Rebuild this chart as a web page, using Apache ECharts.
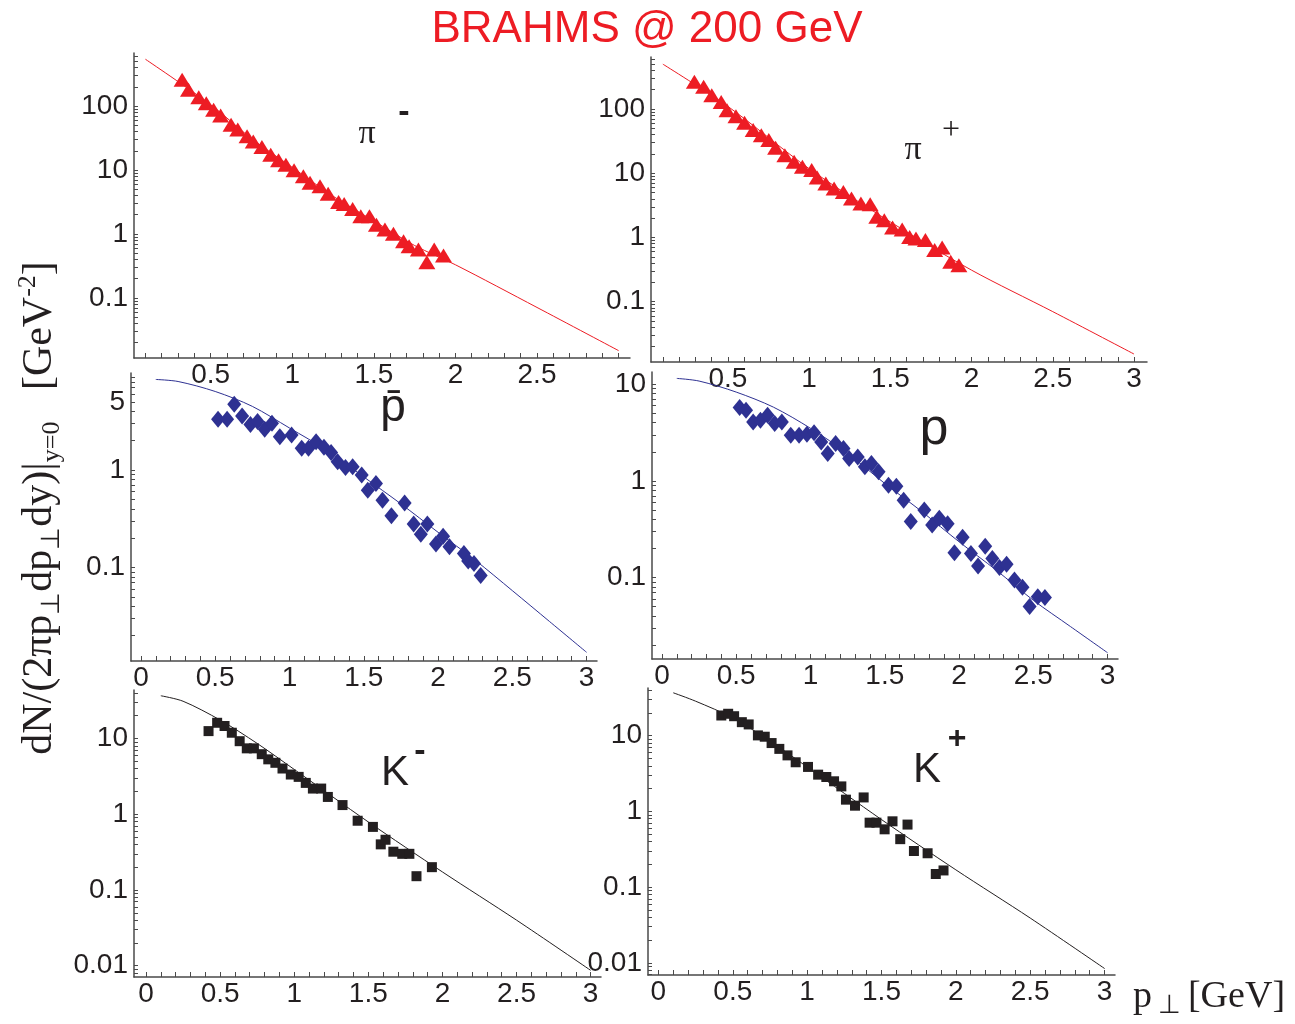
<!DOCTYPE html>
<html>
<head>
<meta charset="utf-8">
<script src="https://cdn.jsdelivr.net/npm/echarts@6/dist/echarts.min.js"></script>
<style>html,body{margin:0;padding:0;background:#fff}#main{width:1295px;height:1024px}</style>
</head>
<body>
<div id="main"></div>
<script>
var myChart = echarts.init(document.getElementById('main'));

// pi- (top left)
var piMinusPt = [0.325,0.364,0.427,0.473,0.518,0.561,0.625,0.666,0.723,0.761,0.814,0.868,0.916,0.961,1.011,1.068,1.109,1.170,1.220,1.284,1.318,1.370,1.420,1.473,1.516,1.568,1.620,1.682,1.716,1.773,1.825,1.870,1.927];
var piMinusY = [258,180,138,111,88,71,51,43,33.6,28,22.9,17.4,14.2,12.1,9.9,8.0,6.3,5.6,4.27,3.16,2.94,2.46,1.89,1.89,1.40,1.17,1.01,0.77,0.64,0.57,0.36,0.57,0.46];
var piMinusFitPt = [0.1,0.5,0.75,1,1.25,1.5,1.75,2,2.5,3];
var piMinusFitY = [540,105,31,11,3.9,1.6,0.66,0.33,0.071,0.015];

// pi+ (top right)
var piPlusPt = [0.294,0.351,0.401,0.459,0.495,0.550,0.603,0.656,0.706,0.752,0.794,0.851,0.908,0.959,1.016,1.050,1.103,1.154,1.211,1.261,1.319,1.376,1.417,1.463,1.514,1.573,1.619,1.658,1.716,1.773,1.819,1.872,1.922];
var piPlusY = [265,222,164,129,96,77,61,47,39,33,25,19.1,15.1,12.6,11.2,8.6,6.9,5.8,5.1,4.05,3.38,3.30,2.10,1.86,1.43,1.33,1.02,0.96,0.91,0.64,0.70,0.42,0.37];
var piPlusFitPt = [0.1,0.5,1,1.5,2,2.5,3];
var piPlusFitY = [500,110,11.8,1.75,0.31,0.07,0.0153];

// anti-proton (middle left)
var pbarPt = [0.519,0.580,0.628,0.681,0.737,0.785,0.833,0.882,0.935,1.014,1.082,1.128,1.179,1.232,1.280,1.324,1.377,1.425,1.486,1.527,1.582,1.626,1.686,1.775,1.836,1.884,1.928,1.986,2.034,2.077,2.174,2.203,2.242,2.287];
var pbarY = [3.32,3.32,4.73,3.59,2.94,3.14,2.62,3.02,2.20,2.29,1.67,1.67,1.95,1.71,1.51,1.22,1.06,1.08,0.89,0.62,0.73,0.49,0.34,0.46,0.28,0.22,0.28,0.174,0.21,0.163,0.139,0.117,0.110,0.083];
var pbarFitPt = [0.1,0.25,0.5,0.75,1,1.25,1.5,1.75,2,2.25,2.5,2.75,3];
var pbarFitY = [8.5,8.1,6.4,4.5,2.7,1.6,0.85,0.45,0.23,0.119,0.058,0.028,0.0135];

// proton (middle right)
var pPt = [0.523,0.566,0.614,0.663,0.711,0.759,0.807,0.867,0.923,0.976,1.024,1.072,1.116,1.169,1.222,1.260,1.318,1.366,1.410,1.458,1.525,1.578,1.627,1.675,1.766,1.819,1.867,1.923,1.969,2.024,2.080,2.128,2.176,2.224,2.272,2.320,2.373,2.427,2.475,2.530,2.578];
var pY = [5.74,5.38,4.07,4.24,4.78,3.92,4.07,2.97,2.97,3.04,3.14,2.53,1.92,2.43,2.16,1.70,1.77,1.40,1.51,1.24,0.90,0.88,0.63,0.38,0.50,0.35,0.41,0.36,0.18,0.26,0.177,0.131,0.21,0.157,0.127,0.137,0.094,0.079,0.050,0.063,0.062];
var pFitPt = [0.1,0.25,0.5,0.75,1,1.25,1.5,1.75,2,2.25,2.5,2.75,3];
var pFitY = [11.5,10.8,8.3,5.8,3.5,1.92,0.94,0.48,0.234,0.119,0.058,0.031,0.0166];

// K- (bottom left)
var kMinusPt = [0.422,0.480,0.530,0.579,0.632,0.680,0.728,0.781,0.825,0.873,0.921,0.977,1.030,1.078,1.126,1.182,1.227,1.326,1.428,1.531,1.584,1.616,1.669,1.729,1.777,1.825,1.929];
var kMinusY = [12.5,16.1,14.6,11.9,9.2,7.4,7.4,6.2,5.3,4.77,4.01,3.34,3.11,2.59,2.18,2.18,1.69,1.32,0.82,0.68,0.40,0.46,0.32,0.30,0.30,0.152,0.20];
var kMinusFitPt = [0.1,0.25,0.5,0.75,1,1.5,2,2.5,3];
var kMinusFitY = [36.6,31,17.5,8.6,3.9,0.79,0.173,0.040,0.0087];

// K+ (bottom right)
var kPlusPt = [0.423,0.469,0.509,0.561,0.607,0.669,0.715,0.761,0.813,0.868,0.923,1.006,1.074,1.129,1.181,1.230,1.261,1.322,1.380,1.420,1.466,1.521,1.574,1.626,1.675,1.718,1.810,1.865,1.917];
var kPlusY = [18.5,19.5,18.1,15.1,14.1,10.1,9.7,8.0,6.7,5.5,4.46,3.87,3.06,2.85,2.50,2.14,1.43,1.19,1.53,0.71,0.71,0.58,0.74,0.43,0.67,0.30,0.28,0.149,0.166];
var kPlusFitPt = [0.1,0.25,0.5,0.75,1,1.5,2,2.5,3];
var kPlusFitY = [36.9,28.6,17.2,8.5,3.87,0.78,0.169,0.039,0.0084];

// tick labels
var xLabelsTopLeft = [0.5,1,1.5,2,2.5];
var xLabelsTopRight = [0.5,1,1.5,2,2.5,3];
var xLabelsFull = [0,0.5,1,1.5,2,2.5,3];
var yLabelsPi = [100,10,1,0.1];
var yLabelsPbar = [5,1,0.1];
var yLabelsP = [10,1,0.1];
var yLabelsK = [10,1,0.1,0.01];

var RED = '#ed1c24', BLUE = '#2e3192', BLACK = '#231f20', AXIS = '#4a4a4a';
var SANS = '"Liberation Sans", Arial, Helvetica, sans-serif';
var SERIF = '"Liberation Serif", "Times New Roman", serif';

function pairs(xs, ys) {
    return xs.map(function (x, i) { return [x, ys[i]]; });
}
// minor ticks of a log axis: 1..9 x 10^n inside the range
function logTicks(min, max) {
    var out = [];
    for (var e = -3; e <= 3; e++) {
        for (var k = 1; k <= 9; k++) {
            var v = parseFloat((k * Math.pow(10, e)).toPrecision(3));
            if (v >= min && v <= max) out.push(v);
        }
    }
    return out;
}
function linTicks(min, max) {
    var out = [];
    for (var i = 0; i <= 30; i++) {
        var v = i / 10;
        if (v >= min && v <= max) out.push(v);
    }
    return out;
}

var panels = [
    { grid: { left: 134, top: 53, width: 496, height: 305 }, xMin: 0.03, xMax: 3.07, yMin: 0.0115, yMax: 676,
      xLab: xLabelsTopLeft, yLab: yLabelsPi, pts: pairs(piMinusPt, piMinusY), fit: pairs(piMinusFitPt, piMinusFitY),
      color: RED, symbol: 'triangle', size: [17, 14] },
    { grid: { left: 651, top: 57, width: 496, height: 305 }, xMin: 0.027, xMax: 3.08, yMin: 0.0115, yMax: 646,
      xLab: xLabelsTopRight, yLab: yLabelsPi, pts: pairs(piPlusPt, piPlusY), fit: pairs(piPlusFitPt, piPlusFitY),
      color: RED, symbol: 'triangle', size: [17, 14] },
    { grid: { left: 131, top: 373, width: 466, height: 288 }, xMin: -0.067, xMax: 3.07, yMin: 0.011, yMax: 9.9,
      xLab: xLabelsFull, yLab: yLabelsPbar, pts: pairs(pbarPt, pbarY), fit: pairs(pbarFitPt, pbarFitY),
      color: BLUE, symbol: 'diamond', size: [14, 17] },
    { grid: { left: 652, top: 372, width: 466, height: 287 }, xMin: -0.067, xMax: 3.07, yMin: 0.0143, yMax: 13.4,
      xLab: xLabelsFull, yLab: yLabelsP, pts: pairs(pPt, pY), fit: pairs(pFitPt, pFitY),
      color: BLUE, symbol: 'diamond', size: [14, 17] },
    { grid: { left: 134, top: 690, width: 467, height: 287 }, xMin: -0.081, xMax: 3.07, yMin: 0.0071, yMax: 43.6,
      xLab: xLabelsFull, yLab: yLabelsK, pts: pairs(kMinusPt, kMinusY), fit: pairs(kMinusFitPt, kMinusFitY),
      color: BLACK, symbol: 'rect', size: 10 },
    { grid: { left: 648, top: 688, width: 467, height: 287 }, xMin: -0.07, xMax: 3.07, yMin: 0.0069, yMax: 42.7,
      xLab: xLabelsFull, yLab: yLabelsK, pts: pairs(kPlusPt, kPlusY), fit: pairs(kPlusFitPt, kPlusFitY),
      color: BLACK, symbol: 'rect', size: 10 }
];

var grids = [], xAxes = [], yAxes = [], series = [];
panels.forEach(function (p, i) {
    grids.push(Object.assign({ containLabel: false, outerBoundsMode: 'none' }, p.grid));
    xAxes.push({
        type: 'value', gridIndex: i, min: p.xMin, max: p.xMax,
        axisLine: { show: true, onZero: false, lineStyle: { color: AXIS, width: 1.5 } },
        axisTick: { show: true, inside: true, length: 5, customValues: linTicks(p.xMin, p.xMax), lineStyle: { color: AXIS } },
        axisLabel: { customValues: p.xLab, margin: 3, fontSize: 28, color: BLACK, fontFamily: SANS,
            showMinLabel: true, showMaxLabel: true, hideOverlap: false },
        splitLine: { show: false }
    });
    yAxes.push({
        type: 'log', logBase: 10, gridIndex: i, min: p.yMin, max: p.yMax,
        axisLine: { show: true, onZero: false, lineStyle: { color: AXIS, width: 1.5 } },
        axisTick: { show: true, inside: true, length: 4, customValues: logTicks(p.yMin, p.yMax), lineStyle: { color: AXIS } },
        axisLabel: { customValues: p.yLab, margin: 6, fontSize: 28, color: BLACK, fontFamily: SANS,
            showMinLabel: true, showMaxLabel: true, hideOverlap: false,
            formatter: function (v) { return String(parseFloat(Number(v).toPrecision(4))); } },
        splitLine: { show: false }
    });
    series.push({
        type: 'line', xAxisIndex: i, yAxisIndex: i, data: p.fit, smooth: 0.3,
        showSymbol: false, silent: true, z: 2,
        lineStyle: { color: p.color, width: 1 }
    });
    series.push({
        type: 'scatter', xAxisIndex: i, yAxisIndex: i, data: p.pts, z: 3,
        symbol: p.symbol, symbolSize: p.size,
        itemStyle: { color: p.color, opacity: 1 }
    });
});

function label(text, x, y, size, family, extra) {
    return {
        type: 'text', x: x, y: y, z: 10,
        style: Object.assign({ text: text, fontSize: size, fontFamily: family, fill: BLACK,
            align: 'center', verticalAlign: 'middle' }, extra || {})
    };
}

var graphics = [
    label('BRAHMS @ 200 GeV', 647, 30, 44, SANS, { fill: RED }),
    label('π', 367, 134, 34, SERIF),
    label('-', 404, 113, 34, SANS, { fontWeight: 'bold' }),
    label('π', 913, 150, 34, SERIF),
    label('+', 951, 131, 32, SERIF),
    label('p\u0304', 393, 408, 46, SANS),
    label('p', 934, 430, 52, SANS),
    label('K', 395, 773, 42, SANS),
    label('-', 420, 752, 34, SANS, { fontWeight: 'bold' }),
    label('K', 927, 770, 42, SANS),
    label('+', 957, 739, 32, SANS, { fontWeight: 'bold' }),
    {
        type: 'text', x: 40, y: 508, rotation: Math.PI / 2, z: 10,
        style: {
            text: '{t|dN/(2πp}{s|⊥}{t|dp}{s|⊥}{t|dy)|}{s|y=0}{t|   [GeV}{u|-2}{t|]}',
            align: 'center', verticalAlign: 'middle', fill: BLACK,
            rich: {
                t: { fontSize: 42, fontFamily: SERIF, fill: BLACK, lineHeight: 50 },
                s: { fontSize: 26, fontFamily: SERIF, fill: BLACK, lineHeight: 26, verticalAlign: 'bottom' },
                u: { fontSize: 26, fontFamily: SERIF, fill: BLACK, lineHeight: 26, verticalAlign: 'top' }
            }
        }
    },
    {
        type: 'text', x: 1209, y: 997, z: 10,
        style: {
            text: '{t|p}{s| ⊥ }{t|[GeV]}',
            align: 'center', verticalAlign: 'middle', fill: BLACK,
            rich: {
                t: { fontSize: 38, fontFamily: SERIF, fill: BLACK, lineHeight: 44 },
                s: { fontSize: 26, fontFamily: SERIF, fill: BLACK, lineHeight: 26, verticalAlign: 'bottom' }
            }
        }
    }
];

var option = {
    backgroundColor: '#fff',
    animation: false,
    grid: grids,
    xAxis: xAxes,
    yAxis: yAxes,
    series: series,
    graphic: graphics
};
myChart.setOption(option);
</script>
</body>
</html>
